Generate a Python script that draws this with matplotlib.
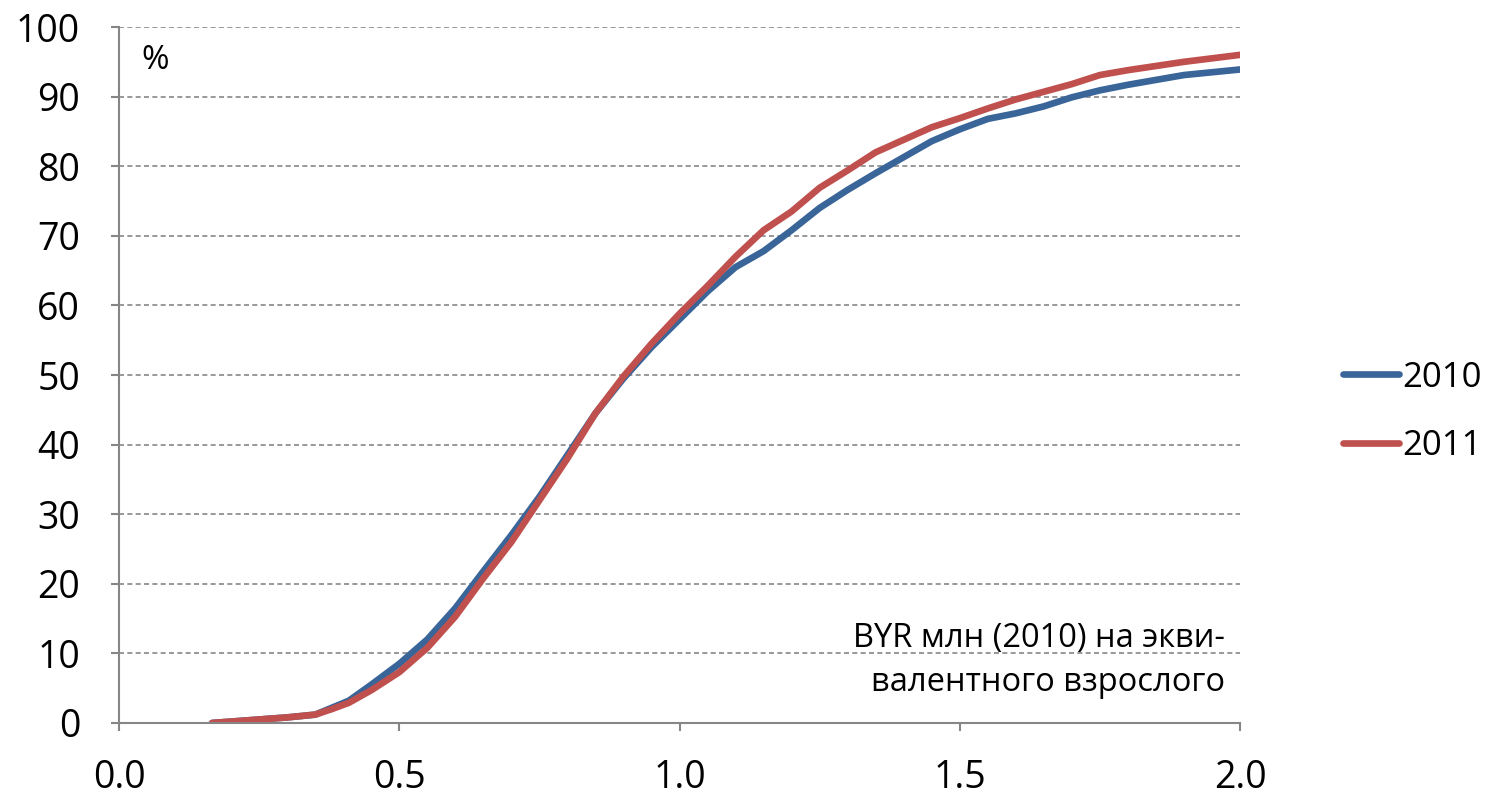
import matplotlib
matplotlib.use("Agg")
import matplotlib.pyplot as plt

plt.rcParams["font.family"] = ["Open Sans", "DejaVu Sans"]

# доход, BYR млн (2010) на эквивалентного взрослого
x_2010 = [0.166, 0.25, 0.30, 0.35, 0.38, 0.41, 0.45, 0.50, 0.55, 0.60, 0.65, 0.70,
          0.75, 0.80, 0.85, 0.90, 0.95, 1.00, 1.05, 1.10, 1.15, 1.20, 1.25, 1.30,
          1.35, 1.40, 1.45, 1.50, 1.55, 1.60, 1.65, 1.70, 1.75, 1.80, 1.85, 1.90,
          1.95, 2.00]
y_2010 = [0.0, 0.5, 0.8, 1.2, 2.2, 3.2, 5.5, 8.5, 12.0, 16.5, 21.8, 27.0,
          32.5, 38.5, 44.5, 49.5, 54.0, 58.0, 62.0, 65.5, 67.8, 70.8, 74.0, 76.6,
          79.0, 81.3, 83.6, 85.3, 86.8, 87.6, 88.6, 89.9, 90.9, 91.7, 92.4, 93.1,
          93.5, 93.9]

x_2011 = [0.166, 0.25, 0.30, 0.35, 0.38, 0.41, 0.45, 0.50, 0.55, 0.60, 0.65, 0.70,
          0.75, 0.80, 0.85, 0.90, 0.95, 1.00, 1.05, 1.10, 1.15, 1.20, 1.25, 1.30,
          1.35, 1.40, 1.45, 1.50, 1.55, 1.60, 1.65, 1.70, 1.75, 1.80, 1.85, 1.90,
          1.95, 2.00]
y_2011 = [0.0, 0.5, 0.8, 1.2, 2.0, 2.9, 4.7, 7.3, 10.8, 15.3, 20.8, 26.0,
          32.0, 38.0, 44.5, 49.8, 54.5, 58.8, 62.8, 67.0, 70.8, 73.5, 76.9, 79.4,
          82.0, 83.8, 85.6, 86.9, 88.3, 89.6, 90.7, 91.8, 93.1, 93.8, 94.4, 95.0,
          95.5, 96.0]

fig = plt.figure(figsize=(14.9, 7.95), dpi=100)
ax = fig.add_axes([0.0799, 0.0906, 0.7523, 0.8754])

ax.plot(x_2010, y_2010, color="#3A6598", lw=4.8, label="2010", solid_capstyle="round")
ax.plot(x_2011, y_2011, color="#C0504D", lw=4.8, label="2011", solid_capstyle="round")

ax.set_xlim(0, 2.0)
ax.set_ylim(0, 100)
ax.set_xticks([0.0, 0.5, 1.0, 1.5, 2.0])
ax.set_xticklabels(["0.0", "0.5", "1.0", "1.5", "2.0"])
ax.set_yticks(range(0, 101, 10))
ax.tick_params(axis="both", labelsize=27, color="#868686", width=1.5, length=6)
ax.tick_params(axis="x", pad=20)
ax.tick_params(axis="y", pad=22)

ax.grid(axis="y", color="#868686", linestyle=(0, (3, 2)), lw=1.2)
ax.set_axisbelow(True)
for s in ["top", "right"]:
    ax.spines[s].set_visible(False)
for s in ["left", "bottom"]:
    ax.spines[s].set_color("#868686")
    ax.spines[s].set_linewidth(1.5)

ax.text(0.04, 97.5, "%", fontsize=24, va="top", ha="left")
ax.text(1.973, 9.0, "BYR млн (2010) на экви-\nвалентного взрослого", fontsize=23.5,
        ha="right", va="center", linespacing=1.45)

ax.legend(loc="center left", bbox_to_anchor=(1.064, 0.447), frameon=False,
          fontsize=25, handlelength=1.6, handletextpad=0.12, labelspacing=1.0,
          borderpad=0.4)

fig.savefig("out.png", dpi=100)
